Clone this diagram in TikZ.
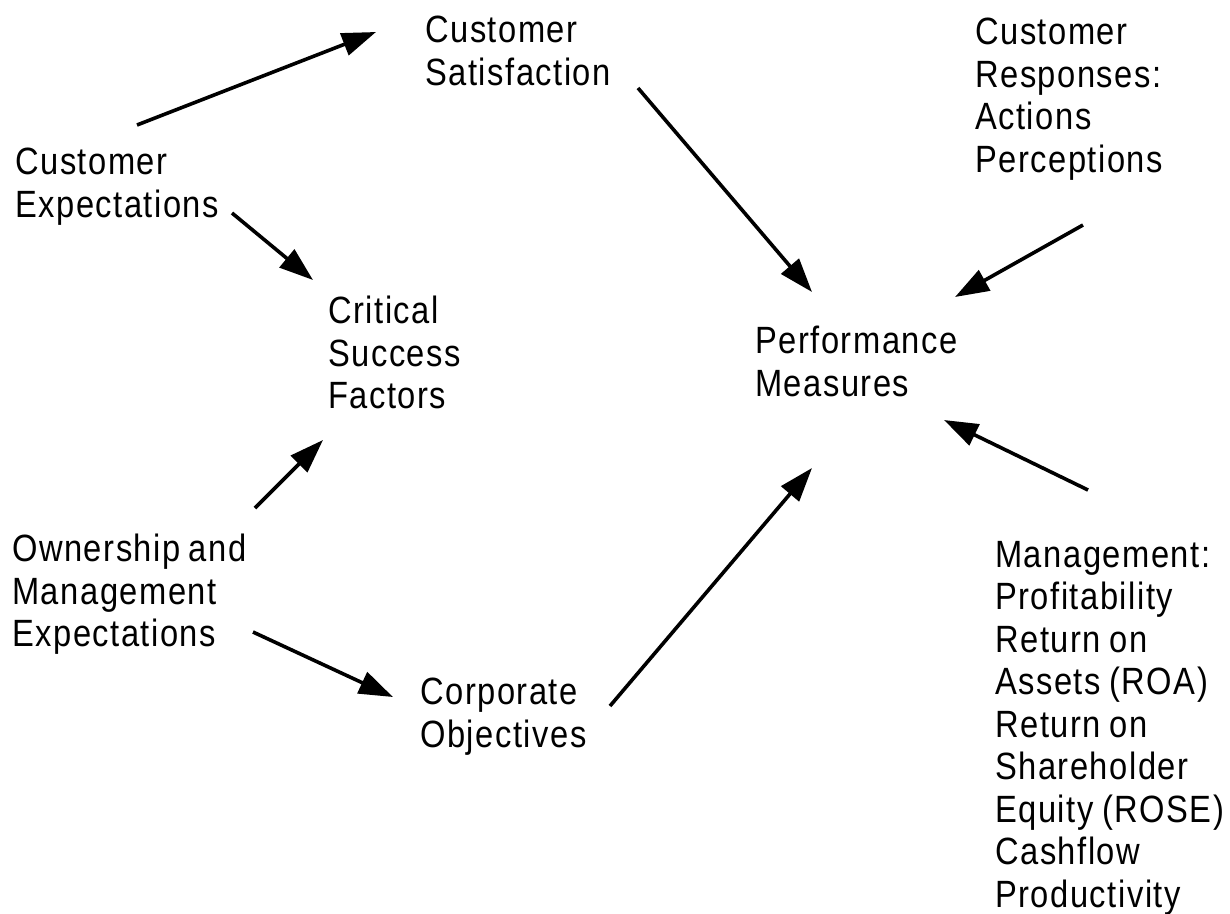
\documentclass[tikz,border=0pt]{standalone}
\usepackage{fontspec}
\setmainfont{Liberation Sans}[FakeStretch=0.86,LetterSpace=4,WordSpace=0.8]
\usetikzlibrary{arrows.meta}
\begin{document}
\begin{tikzpicture}[x=1pt,y=-1pt,
  lbl/.style={anchor=north west,inner sep=0pt,align=left,
    font=\fontsize{38}{42.5}\selectfont},
  arr/.style={line width=3.6pt,-{Triangle[length=34pt,width=23pt]}}]
\useasboundingbox (0,0) rectangle (1230,913);

% text blocks
\node[lbl] (cs)  at (425,16)  {Customer\\Satisfaction};
\node[lbl] (ce)  at (15,148)  {Customer\\Expectations};
\node[lbl] (csf) at (328,296) {Critical\\Success\\Factors};
\node[lbl] (ome) at (12,534)  {Ownership and\\Management\\Expectations};
\node[lbl] (co)  at (420,678) {Corporate\\Objectives};
\node[lbl] (pm)  at (755,326) {Performance\\Measures};
\node[lbl] (cr)  at (975,18)  {Customer\\Responses:\\Actions\\Perceptions};
\node[lbl] (mg)  at (995,541) {Management:\\Profitability\\Return on\\Assets (ROA)\\Return on\\Shareholder\\Equity (ROSE)\\Cashflow\\Productivity};

% arrow end points
\coordinate (ce-s1) at (137,125);  \coordinate (cs-t)   at (376,32);
\coordinate (cs-s)  at (638,88);   \coordinate (pm-t1)  at (812,292);
\coordinate (cr-s)  at (1083,225); \coordinate (pm-t2)  at (955,297);
\coordinate (ce-s2) at (232,213);  \coordinate (csf-t1) at (313,280);
\coordinate (ome-s1) at (255,508); \coordinate (csf-t2) at (323,440);
\coordinate (ome-s2) at (253,632); \coordinate (co-t)   at (393,697);
\coordinate (co-s)  at (610,706);  \coordinate (pm-t3)  at (812,468);
\coordinate (mg-s)  at (1088,490); \coordinate (pm-t4)  at (944,420);

% connectors
\draw[arr] (ce-s1) -- (cs-t);
\draw[arr] (cs-s) -- (pm-t1);
\draw[arr] (cr-s) -- (pm-t2);
\draw[arr] (ce-s2) -- (csf-t1);
\draw[arr] (ome-s1) -- (csf-t2);
\draw[arr] (ome-s2) -- (co-t);
\draw[arr] (co-s) -- (pm-t3);
\draw[arr] (mg-s) -- (pm-t4);
\end{tikzpicture}
\end{document}
